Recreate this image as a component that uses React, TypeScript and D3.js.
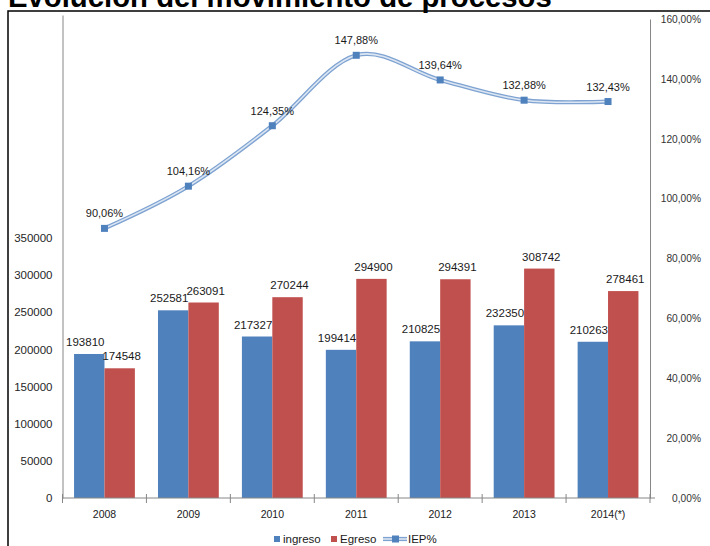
import React, { useEffect, useRef } from 'react';
import * as d3 from 'd3';

const years = ['2008', '2009', '2010', '2011', '2012', '2013', '2014(*)'];
const ingreso = [193810, 252581, 217327, 199414, 210825, 232350, 210263];
const egreso = [174548, 263091, 270244, 294900, 294391, 308742, 278461];
const iep = [90.06, 104.16, 124.35, 147.88, 139.64, 132.88, 132.43];
const leftTicks = [0, 50000, 100000, 150000, 200000, 250000, 300000, 350000];
const rightTicks = [0, 20, 40, 60, 80, 100, 120, 140, 160];
const seriesNames = ['ingreso', 'Egreso'];

const BLUE = '#4F81BD';
const RED = '#C0504D';
const AXIS = '#868686';
const FONT = '"Liberation Sans", Arial, sans-serif';

const pct = (v: number) => v.toFixed(2).replace('.', ',') + '%';

export default function App() {
  const svgRef = useRef<SVGSVGElement>(null);

  useEffect(() => {
    if (!svgRef.current) return;
    const root = d3.select(svgRef.current);
    root.selectAll('*').remove();

    // Scales
    const x = d3.scaleBand<string>().domain(years).range([62.5, 650]).padding(0);
    const inner = d3.scaleBand<string>()
      .domain(seriesNames)
      .range([0, x.bandwidth()])
      .paddingInner(0)
      .paddingOuter(0.38);
    const yL = d3.scaleLinear().domain([0, 650000]).range([498, 15]);
    const yR = d3.scaleLinear().domain([0, 160]).range([498, 19]);

    // Title (cut at top like the source)
    root.append('text')
      .attr('x', 8)
      .attr('y', 7)
      .attr('font-family', FONT)
      .attr('font-weight', 'bold')
      .attr('font-size', 29.3)
      .attr('fill', '#000')
      .text('Evolución del movimiento de procesos');

    // Chart frame
    root.append('path')
      .attr('d', 'M8,546V11H712')
      .attr('fill', 'none')
      .attr('stroke', '#000')
      .attr('stroke-width', 1.5);

    // Bars
    const series = [
      { name: 'ingreso', values: ingreso, color: BLUE, dx: -4 },
      { name: 'Egreso', values: egreso, color: RED, dx: 2 },
    ];

    series.forEach((s) => {
      const g = root.append('g');
      g.selectAll('rect')
        .data(s.values)
        .enter()
        .append('rect')
        .attr('x', (d, i) => x(years[i])! + inner(s.name)!)
        .attr('y', (d) => yL(d))
        .attr('width', inner.bandwidth())
        .attr('height', (d) => yL(0) - yL(d))
        .attr('fill', s.color);

      g.selectAll('text')
        .data(s.values)
        .enter()
        .append('text')
        .attr('x', (d, i) => x(years[i])! + inner(s.name)! + inner.bandwidth() / 2 + s.dx)
        .attr('y', (d) => yL(d) - 8)
        .attr('text-anchor', 'middle')
        .attr('font-family', FONT)
        .attr('font-size', 11.5)
        .attr('fill', '#1a1a1a')
        .text((d) => String(d));
    });

    // Left axis
    const left = root.append('g')
      .attr('transform', 'translate(62.5,0)')
      .call(d3.axisLeft(yL).tickValues(leftTicks).tickSize(0).tickPadding(10).tickFormat(d3.format('d')));
    left.select('.domain').attr('stroke', AXIS);
    left.selectAll('text').attr('font-family', FONT).attr('font-size', 11.5).attr('fill', '#262626');

    // Right axis
    const right = root.append('g')
      .attr('transform', 'translate(650,0)')
      .call(d3.axisRight(yR).tickValues(rightTicks).tickSize(0).tickFormat((d) => pct(+d)));
    right.select('.domain').attr('stroke', AXIS);
    right.selectAll('text')
      .attr('x', 51)
      .attr('text-anchor', 'end')
      .attr('font-family', FONT)
      .attr('font-size', 10.2)
      .attr('fill', '#333');

    // X axis
    const bottom = root.append('g')
      .attr('transform', 'translate(0,498)')
      .call(d3.axisBottom(x).tickSize(0).tickPadding(13));
    bottom.select('.domain').remove();
    bottom.selectAll('text').attr('font-family', FONT).attr('font-size', 10.5).attr('fill', '#1a1a1a');

    root.append('line')
      .attr('x1', 62.5).attr('x2', 655)
      .attr('y1', 498).attr('y2', 498)
      .attr('stroke', AXIS);

    const bounds = years.map((y) => x(y)!).concat([x.range()[1]]);
    root.selectAll('.xtick')
      .data(bounds)
      .enter()
      .append('line')
      .attr('class', 'xtick')
      .attr('x1', (d) => d).attr('x2', (d) => d)
      .attr('y1', 494).attr('y2', 503)
      .attr('stroke', AXIS);

    // IEP% line (double stroke, smoothed)
    const cx = (i: number) => x(years[i])! + x.bandwidth() / 2;
    const line = d3.line<number>()
      .x((d, i) => cx(i))
      .y((d) => yR(d))
      .curve(d3.curveCardinal.tension(0));

    root.append('path')
      .datum(iep)
      .attr('fill', 'none')
      .attr('stroke', '#7EA3D2')
      .attr('stroke-width', 4.2)
      .attr('d', line);
    root.append('path')
      .datum(iep)
      .attr('fill', 'none')
      .attr('stroke', '#DCE6F2')
      .attr('stroke-width', 1.6)
      .attr('d', line);

    root.selectAll('.marker')
      .data(iep)
      .enter()
      .append('rect')
      .attr('class', 'marker')
      .attr('x', (d, i) => cx(i) - 3.5)
      .attr('y', (d) => yR(d) - 3.5)
      .attr('width', 7)
      .attr('height', 7)
      .attr('fill', BLUE);

    root.selectAll('.plabel')
      .data(iep)
      .enter()
      .append('text')
      .attr('class', 'plabel')
      .attr('x', (d, i) => cx(i))
      .attr('y', (d) => yR(d) - 11)
      .attr('text-anchor', 'middle')
      .attr('font-family', FONT)
      .attr('font-size', 11)
      .attr('fill', '#1a1a1a')
      .text((d) => pct(d));

    // Legend
    const legend = root.append('g').attr('transform', 'translate(274,539)');
    const items = [
      { label: 'ingreso', color: BLUE, kind: 'box', x: 0 },
      { label: 'Egreso', color: RED, kind: 'box', x: 57 },
      { label: 'IEP%', color: BLUE, kind: 'line', x: 109 },
    ];
    items.forEach((it) => {
      const g = legend.append('g').attr('transform', `translate(${it.x},0)`);
      let tx = 9;
      if (it.kind === 'box') {
        g.append('rect').attr('x', 0).attr('y', -3).attr('width', 6).attr('height', 6).attr('fill', it.color);
      } else {
        g.append('line').attr('x1', 0).attr('x2', 24).attr('y1', 0).attr('y2', 0)
          .attr('stroke', '#7EA3D2').attr('stroke-width', 4.2);
        g.append('line').attr('x1', 0).attr('x2', 24).attr('y1', 0).attr('y2', 0)
          .attr('stroke', '#DCE6F2').attr('stroke-width', 1.6);
        g.append('rect').attr('x', 9).attr('y', -3.5).attr('width', 7).attr('height', 7).attr('fill', BLUE);
        tx = 25;
      }
      g.append('text')
        .attr('x', tx)
        .attr('y', 4)
        .attr('font-family', FONT)
        .attr('font-size', 11.5)
        .attr('fill', '#1a1a1a')
        .text(it.label);
    });
  }, []);

  return (
    <svg
      ref={svgRef}
      width={710}
      height={546}
      style={{ position: 'absolute', left: 0, top: 0, background: '#fff' }}
    />
  );
}
